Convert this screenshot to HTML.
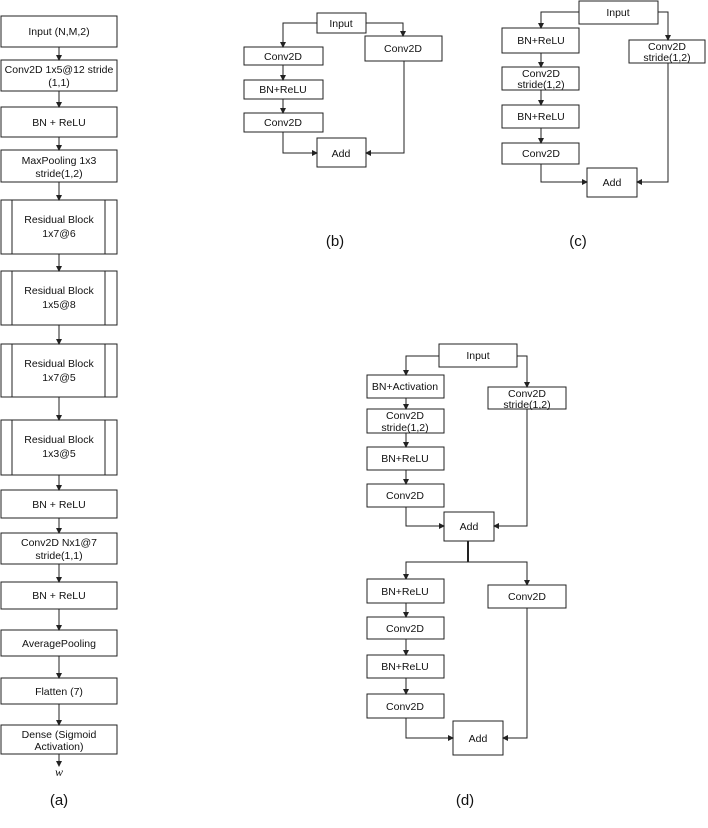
<!DOCTYPE html>
<html><head><meta charset="utf-8"><style>
html,body{margin:0;padding:0;background:#fff;}
svg{display:block;font-family:"Liberation Sans",Arial,sans-serif;}
text{font-size:10.5px;fill:#111;text-anchor:middle;}
.l{font-size:15px;}
rect{fill:#fff;stroke:#222;stroke-width:1;}
line,polyline{stroke:#222;stroke-width:1;fill:none;}
</style></head><body>
<svg width="708" height="828" viewBox="0 0 708 828" xmlns="http://www.w3.org/2000/svg">
<defs><marker id="a" markerWidth="6" markerHeight="6" refX="5" refY="3" orient="auto" markerUnits="userSpaceOnUse"><path d="M0,0 L6,3 L0,6 z" fill="#222"/></marker></defs>

<!-- (a) -->
<g>
<rect x="1" y="16" width="116" height="31"/><text x="59" y="35">Input (N,M,2)</text>
<rect x="1" y="60" width="116" height="31"/><text x="59" y="73">Conv2D 1x5@12 stride</text><text x="59" y="86">(1,1)</text>
<rect x="1" y="107" width="116" height="30"/><text x="59" y="126">BN + ReLU</text>
<rect x="1" y="150" width="116" height="32"/><text x="59" y="164">MaxPooling 1x3</text><text x="59" y="177">stride(1,2)</text>
<rect x="1" y="200" width="116" height="54"/><line x1="12" y1="200" x2="12" y2="254"/><line x1="105" y1="200" x2="105" y2="254"/><text x="59" y="223">Residual Block</text><text x="59" y="237">1x7@6</text>
<rect x="1" y="271" width="116" height="54"/><line x1="12" y1="271" x2="12" y2="325"/><line x1="105" y1="271" x2="105" y2="325"/><text x="59" y="294">Residual Block</text><text x="59" y="308">1x5@8</text>
<rect x="1" y="344" width="116" height="53"/><line x1="12" y1="344" x2="12" y2="397"/><line x1="105" y1="344" x2="105" y2="397"/><text x="59" y="367">Residual Block</text><text x="59" y="381">1x7@5</text>
<rect x="1" y="420" width="116" height="55"/><line x1="12" y1="420" x2="12" y2="475"/><line x1="105" y1="420" x2="105" y2="475"/><text x="59" y="443">Residual Block</text><text x="59" y="457">1x3@5</text>
<rect x="1" y="490" width="116" height="28"/><text x="59" y="508">BN + ReLU</text>
<rect x="1" y="533" width="116" height="31"/><text x="59" y="546">Conv2D Nx1@7</text><text x="59" y="559">stride(1,1)</text>
<rect x="1" y="582" width="116" height="27"/><text x="59" y="599">BN + ReLU</text>
<rect x="1" y="630" width="116" height="26"/><text x="59" y="647">AveragePooling</text>
<rect x="1" y="678" width="116" height="26"/><text x="59" y="695">Flatten (7)</text>
<rect x="1" y="725" width="116" height="29"/><text x="59" y="738">Dense (Sigmoid</text><text x="59" y="750">Activation)</text>
<line x1="59" y1="47" x2="59" y2="60" marker-end="url(#a)"/>
<line x1="59" y1="91" x2="59" y2="107" marker-end="url(#a)"/>
<line x1="59" y1="137" x2="59" y2="150" marker-end="url(#a)"/>
<line x1="59" y1="182" x2="59" y2="200" marker-end="url(#a)"/>
<line x1="59" y1="254" x2="59" y2="271" marker-end="url(#a)"/>
<line x1="59" y1="325" x2="59" y2="344" marker-end="url(#a)"/>
<line x1="59" y1="397" x2="59" y2="420" marker-end="url(#a)"/>
<line x1="59" y1="475" x2="59" y2="490" marker-end="url(#a)"/>
<line x1="59" y1="518" x2="59" y2="533" marker-end="url(#a)"/>
<line x1="59" y1="564" x2="59" y2="582" marker-end="url(#a)"/>
<line x1="59" y1="609" x2="59" y2="630" marker-end="url(#a)"/>
<line x1="59" y1="656" x2="59" y2="678" marker-end="url(#a)"/>
<line x1="59" y1="704" x2="59" y2="725" marker-end="url(#a)"/>
<line x1="59" y1="754" x2="59" y2="766" marker-end="url(#a)"/>
<text x="59" y="776" style="font-family:'Liberation Serif',serif;font-style:italic;font-size:12px">w</text>
<text class="l" x="59" y="805">(a)</text>
</g>

<!-- (b) -->
<g>
<rect x="317" y="13" width="49" height="20"/><text x="341" y="27">Input</text>
<rect x="244" y="47" width="79" height="18"/><text x="283" y="60">Conv2D</text>
<rect x="244" y="80" width="79" height="19"/><text x="283" y="93">BN+ReLU</text>
<rect x="244" y="113" width="79" height="19"/><text x="283" y="126">Conv2D</text>
<rect x="365" y="36" width="77" height="25"/><text x="403" y="52">Conv2D</text>
<rect x="317" y="138" width="49" height="29"/><text x="341" y="157">Add</text>
<polyline points="317,23 283,23 283,47" marker-end="url(#a)"/>
<polyline points="366,23 403,23 403,36" marker-end="url(#a)"/>
<line x1="283" y1="65" x2="283" y2="80" marker-end="url(#a)"/>
<line x1="283" y1="99" x2="283" y2="113" marker-end="url(#a)"/>
<polyline points="283,132 283,153 317,153" marker-end="url(#a)"/>
<polyline points="404,61 404,153 366,153" marker-end="url(#a)"/>
<text class="l" x="335" y="246">(b)</text>
</g>

<!-- (c) -->
<g>
<rect x="579" y="1" width="79" height="23"/><text x="618" y="16">Input</text>
<rect x="502" y="28" width="77" height="25"/><text x="541" y="44">BN+ReLU</text>
<rect x="502" y="67" width="77" height="23"/><text x="541" y="77">Conv2D</text><text x="541" y="88">stride(1,2)</text>
<rect x="502" y="105" width="77" height="23"/><text x="541" y="120">BN+ReLU</text>
<rect x="502" y="143" width="77" height="21"/><text x="541" y="157">Conv2D</text>
<rect x="587" y="168" width="50" height="29"/><text x="612" y="186">Add</text>
<rect x="629" y="40" width="76" height="23"/><text x="667" y="50">Conv2D</text><text x="667" y="61">stride(1,2)</text>
<polyline points="579,12 541,12 541,28" marker-end="url(#a)"/>
<polyline points="658,12 668,12 668,40" marker-end="url(#a)"/>
<line x1="541" y1="53" x2="541" y2="67" marker-end="url(#a)"/>
<line x1="541" y1="90" x2="541" y2="105" marker-end="url(#a)"/>
<line x1="541" y1="128" x2="541" y2="143" marker-end="url(#a)"/>
<polyline points="541,164 541,182 587,182" marker-end="url(#a)"/>
<polyline points="668,63 668,182 637,182" marker-end="url(#a)"/>
<text class="l" x="578" y="246">(c)</text>
</g>

<!-- (d) -->
<g>
<rect x="439" y="344" width="78" height="23"/><text x="478" y="359">Input</text>
<rect x="367" y="375" width="77" height="23"/><text x="405" y="390">BN+Activation</text>
<rect x="367" y="409" width="77" height="24"/><text x="405" y="419">Conv2D</text><text x="405" y="431">stride(1,2)</text>
<rect x="367" y="447" width="77" height="23"/><text x="405" y="462">BN+ReLU</text>
<rect x="367" y="484" width="77" height="23"/><text x="405" y="499">Conv2D</text>
<rect x="444" y="512" width="50" height="29"/><text x="469" y="530">Add</text>
<rect x="488" y="387" width="78" height="22"/><text x="527" y="397">Conv2D</text><text x="527" y="408">stride(1,2)</text>
<polyline points="439,356 406,356 406,375" marker-end="url(#a)"/>
<polyline points="517,356 527,356 527,387" marker-end="url(#a)"/>
<line x1="406" y1="398" x2="406" y2="409" marker-end="url(#a)"/>
<line x1="406" y1="433" x2="406" y2="447" marker-end="url(#a)"/>
<line x1="406" y1="470" x2="406" y2="484" marker-end="url(#a)"/>
<polyline points="406,507 406,526 444,526" marker-end="url(#a)"/>
<polyline points="527,409 527,526 494,526" marker-end="url(#a)"/>
<line x1="468" y1="541" x2="468" y2="562" style="stroke-width:2"/>
<polyline points="406,579 406,562 527,562 527,585" marker-end="url(#a)"/>
<line x1="406" y1="575" x2="406" y2="579" marker-end="url(#a)"/>
<rect x="367" y="579" width="77" height="24"/><text x="405" y="595">BN+ReLU</text>
<rect x="367" y="617" width="77" height="22"/><text x="405" y="632">Conv2D</text>
<rect x="367" y="655" width="77" height="23"/><text x="405" y="670">BN+ReLU</text>
<rect x="367" y="694" width="77" height="24"/><text x="405" y="710">Conv2D</text>
<rect x="488" y="585" width="78" height="23"/><text x="527" y="600">Conv2D</text>
<rect x="453" y="721" width="50" height="34"/><text x="478" y="742">Add</text>
<line x1="406" y1="603" x2="406" y2="617" marker-end="url(#a)"/>
<line x1="406" y1="639" x2="406" y2="655" marker-end="url(#a)"/>
<line x1="406" y1="678" x2="406" y2="694" marker-end="url(#a)"/>
<polyline points="406,718 406,738 453,738" marker-end="url(#a)"/>
<polyline points="527,608 527,738 503,738" marker-end="url(#a)"/>
<text class="l" x="465" y="805">(d)</text>
</g>
</svg>
</body></html>
